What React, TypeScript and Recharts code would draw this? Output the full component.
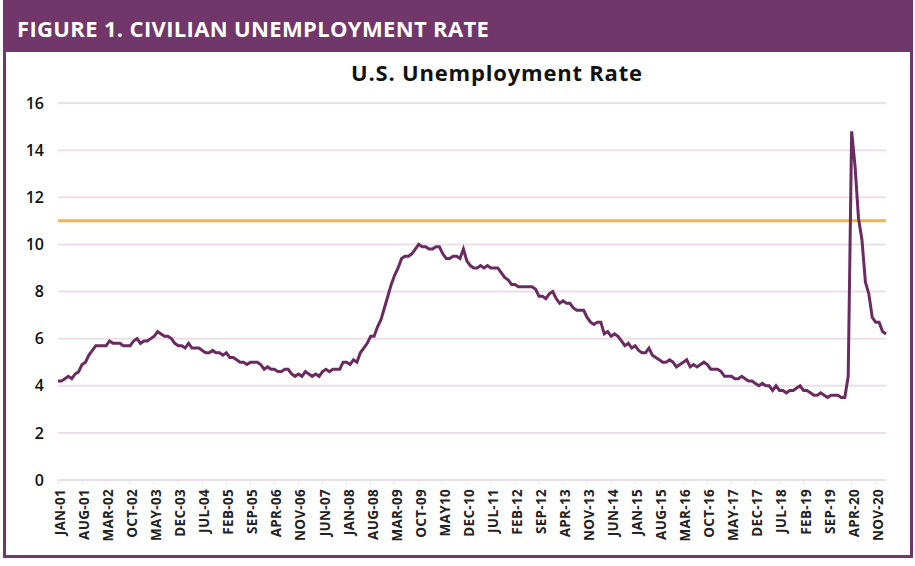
import React from 'react';
import {
  LineChart,
  Line,
  XAxis,
  YAxis,
  CartesianGrid,
  ReferenceLine,
} from 'recharts';

// Monthly civilian unemployment rate, Jan 2001 - Feb 2021
const rates2001 = [4.2, 4.2, 4.3, 4.4, 4.3, 4.5, 4.6, 4.9, 5.0, 5.3, 5.5, 5.7];
const rates2002 = [5.7, 5.7, 5.7, 5.9, 5.8, 5.8, 5.8, 5.7, 5.7, 5.7, 5.9, 6.0];
const rates2003 = [5.8, 5.9, 5.9, 6.0, 6.1, 6.3, 6.2, 6.1, 6.1, 6.0, 5.8, 5.7];
const rates2004 = [5.7, 5.6, 5.8, 5.6, 5.6, 5.6, 5.5, 5.4, 5.4, 5.5, 5.4, 5.4];
const rates2005 = [5.3, 5.4, 5.2, 5.2, 5.1, 5.0, 5.0, 4.9, 5.0, 5.0, 5.0, 4.9];
const rates2006 = [4.7, 4.8, 4.7, 4.7, 4.6, 4.6, 4.7, 4.7, 4.5, 4.4, 4.5, 4.4];
const rates2007 = [4.6, 4.5, 4.4, 4.5, 4.4, 4.6, 4.7, 4.6, 4.7, 4.7, 4.7, 5.0];
const rates2008 = [5.0, 4.9, 5.1, 5.0, 5.4, 5.6, 5.8, 6.1, 6.1, 6.5, 6.8, 7.3];
const rates2009 = [7.8, 8.3, 8.7, 9.0, 9.4, 9.5, 9.5, 9.6, 9.8, 10.0, 9.9, 9.9];
const rates2010 = [9.8, 9.8, 9.9, 9.9, 9.6, 9.4, 9.4, 9.5, 9.5, 9.4, 9.8, 9.3];
const rates2011 = [9.1, 9.0, 9.0, 9.1, 9.0, 9.1, 9.0, 9.0, 9.0, 8.8, 8.6, 8.5];
const rates2012 = [8.3, 8.3, 8.2, 8.2, 8.2, 8.2, 8.2, 8.1, 7.8, 7.8, 7.7, 7.9];
const rates2013 = [8.0, 7.7, 7.5, 7.6, 7.5, 7.5, 7.3, 7.2, 7.2, 7.2, 6.9, 6.7];
const rates2014 = [6.6, 6.7, 6.7, 6.2, 6.3, 6.1, 6.2, 6.1, 5.9, 5.7, 5.8, 5.6];
const rates2015 = [5.7, 5.5, 5.4, 5.4, 5.6, 5.3, 5.2, 5.1, 5.0, 5.0, 5.1, 5.0];
const rates2016 = [4.8, 4.9, 5.0, 5.1, 4.8, 4.9, 4.8, 4.9, 5.0, 4.9, 4.7, 4.7];
const rates2017 = [4.7, 4.6, 4.4, 4.4, 4.4, 4.3, 4.3, 4.4, 4.3, 4.2, 4.2, 4.1];
const rates2018 = [4.0, 4.1, 4.0, 4.0, 3.8, 4.0, 3.8, 3.8, 3.7, 3.8, 3.8, 3.9];
const rates2019 = [4.0, 3.8, 3.8, 3.7, 3.6, 3.6, 3.7, 3.6, 3.5, 3.6, 3.6, 3.6];
const rates2020 = [3.5, 3.5, 4.4, 14.8, 13.3, 11.1, 10.2, 8.4, 7.9, 6.9, 6.7, 6.7];
const rates2021 = [6.3, 6.2];

// Every 7th month is labelled
const tickLabels = [
  'JAN-01', 'AUG-01', 'MAR-02', 'OCT-02', 'MAY-03', 'DEC-03', 'JUL-04',
  'FEB-05', 'SEP-05', 'APR-06', 'NOV-06', 'JUN-07', 'JAN-08', 'AUG-08',
  'MAR-09', 'OCT-09', 'MAY10', 'DEC-10', 'JUL-11', 'FEB-12', 'SEP-12',
  'APR-13', 'NOV-13', 'JUN-14', 'JAN-15', 'AUG-15', 'MAR-16', 'OCT-16',
  'MAY-17', 'DEC-17', 'JUL-18', 'FEB-19', 'SEP-19', 'APR-20', 'NOV-20',
];

const yTicks = [0, 2, 4, 6, 8, 10, 12, 14, 16];
const threshold = 11;

const rates = [
  ...rates2001, ...rates2002, ...rates2003, ...rates2004, ...rates2005,
  ...rates2006, ...rates2007, ...rates2008, ...rates2009, ...rates2010,
  ...rates2011, ...rates2012, ...rates2013, ...rates2014, ...rates2015,
  ...rates2016, ...rates2017, ...rates2018, ...rates2019, ...rates2020,
  ...rates2021,
];
const data = rates.map((rate, idx) => ({ idx, rate }));
const xTicks = tickLabels.map((_, i) => i * 7);

const PURPLE = '#72376a';
const FONT = "'Open Sans', 'DejaVu Sans', sans-serif";

function MonthTick({ x, y, payload }: any) {
  return (
    <text
      x={x + 2}
      y={y}
      transform={`rotate(-90, ${x + 2}, ${y})`}
      textAnchor="end"
      dominantBaseline="central"
      fontSize={13.5}
      fontWeight={700}
      letterSpacing={0.3}
      fill="#222"
      fontFamily={FONT}
    >
      {tickLabels[payload.value / 7]}
    </text>
  );
}

export default function App() {
  return (
    <div
      style={{
        position: 'absolute',
        left: 0,
        top: 0,
        width: 915,
        height: 566,
        background: '#fff',
        fontFamily: FONT,
      }}
    >
      <div
        style={{
          position: 'absolute',
          left: 3,
          top: 0,
          width: 904,
          height: 555,
          border: `3px solid ${PURPLE}`,
          borderTop: 'none',
        }}
      />
      <div
        style={{
          position: 'absolute',
          left: 3,
          top: 0,
          width: 910,
          height: 52,
          background: PURPLE,
          color: '#fff',
          fontWeight: 700,
          fontSize: 22,
          letterSpacing: 0.35,
          lineHeight: '56px',
          paddingLeft: 14,
          boxSizing: 'border-box',
          whiteSpace: 'nowrap',
        }}
      >
        FIGURE 1. CIVILIAN UNEMPLOYMENT RATE
      </div>
      <div
        style={{
          position: 'absolute',
          left: 0,
          top: 57,
          width: 994,
          textAlign: 'center',
          fontSize: 22,
          fontWeight: 700,
          letterSpacing: 0.8,
          color: '#111',
        }}
      >
        U.S. Unemployment Rate
      </div>
      <div style={{ position: 'absolute', left: 0, top: 0 }}>
        <LineChart
          width={915}
          height={566}
          data={data}
          margin={{ top: 103, right: 29, left: 18, bottom: 6 }}
        >
          <CartesianGrid vertical={false} stroke="#ecdfeb" strokeWidth={2} />
          <XAxis
            dataKey="idx"
            type="number"
            domain={[0, rates.length - 1]}
            ticks={xTicks}
            interval={0}
            height={80}
            axisLine={{ stroke: '#ecdfeb', strokeWidth: 2 }}
            tickLine={{ stroke: '#ecdfeb' }}
            tickSize={4}
            tickMargin={5}
            tick={<MonthTick />}
          />
          <YAxis
            domain={[0, 16]}
            ticks={yTicks}
            width={40}
            axisLine={false}
            tickLine={false}
            tickSize={0}
            tickMargin={14}
            tick={{ fontSize: 16, fontWeight: 600, fill: '#111', fontFamily: FONT }}
          />
          <ReferenceLine y={threshold} stroke="#f0b54c" strokeWidth={3} />
          <Line
            type="linear"
            dataKey="rate"
            stroke="#6a2b5e"
            strokeWidth={3}
            dot={false}
            isAnimationActive={false}
          />
        </LineChart>
      </div>
    </div>
  );
}
